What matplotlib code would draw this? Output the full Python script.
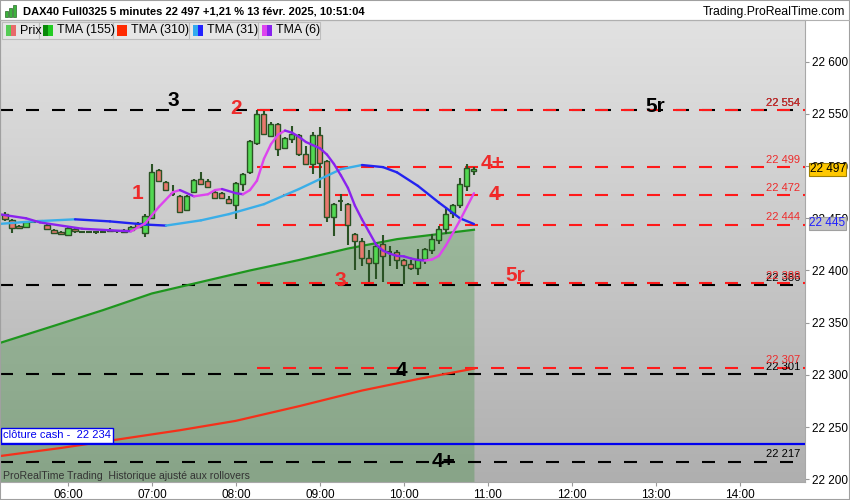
import matplotlib.pyplot as plt
import numpy as np
from matplotlib.patches import Rectangle
from matplotlib.collections import LineCollection
from matplotlib.colors import LinearSegmentedColormap

plt.rcParams['font.family'] = ['Liberation Sans', 'DejaVu Sans']
plt.rcParams['lines.scale_dashes'] = False

# 5-minute bars from 05:15 to 10:50
start_minutes = 5 * 60 + 15
bar_minutes = 5
opens = [22454, 22448, 22443, 22442, 22446, 22447, 22444, 22439, 22437, 22434,
         22440, 22437, 22437, 22437, 22437, 22438, 22438, 22439, 22439, 22445,
         22436, 22450, 22496, 22485, 22473, 22471, 22458, 22475, 22488, 22486,
         22475, 22474, 22468, 22463, 22483, 22494, 22522, 22550, 22529, 22540,
         22517, 22526, 22530, 22512, 22502, 22530, 22505, 22451, 22467, 22464,
         22435, 22428, 22412, 22407, 22425, 22418, 22418, 22410, 22406, 22402,
         22411, 22420, 22429, 22440, 22455, 22463, 22481, 22495]
highs = [22456, 22449, 22444, 22447, 22448, 22448, 22445, 22440, 22438, 22442,
         22441, 22438, 22438, 22438, 22438, 22441, 22439, 22440, 22443, 22446,
         22454, 22502, 22497, 22486, 22482, 22472, 22472, 22488, 22494, 22488,
         22476, 22475, 22471, 22485, 22493, 22525, 22554, 22553, 22542, 22541,
         22528, 22538, 22531, 22519, 22533, 22537, 22506, 22465, 22473, 22465,
         22436, 22431, 22420, 22426, 22434, 22423, 22420, 22411, 22410, 22421,
         22422, 22435, 22443, 22461, 22464, 22489, 22502, 22499]
lows = [22447, 22436, 22440, 22441, 22445, 22446, 22439, 22435, 22434, 22433,
        22436, 22436, 22436, 22435, 22436, 22437, 22436, 22436, 22438, 22441,
        22432, 22449, 22485, 22476, 22471, 22455, 22457, 22474, 22482, 22479,
        22468, 22468, 22464, 22449, 22476, 22492, 22520, 22530, 22528, 22510,
        22516, 22522, 22510, 22501, 22492, 22479, 22446, 22433, 22457, 22424,
        22400, 22404, 22389, 22392, 22389, 22404, 22401, 22387, 22400, 22396,
        22406, 22416, 22425, 22435, 22450, 22460, 22476, 22491]
closes = [22449, 22441, 22441, 22446, 22446, 22447, 22440, 22436, 22435, 22441,
          22438, 22437, 22437, 22437, 22437, 22439, 22438, 22437, 22442, 22442,
          22452, 22494, 22486, 22477, 22473, 22456, 22471, 22487, 22483, 22480,
          22469, 22469, 22465, 22484, 22492, 22524, 22550, 22531, 22540, 22516,
          22527, 22531, 22512, 22502, 22530, 22503, 22451, 22464, 22467, 22444,
          22428, 22412, 22407, 22423, 22414, 22418, 22410, 22405, 22402, 22411,
          22421, 22430, 22440, 22454, 22463, 22483, 22498, 22497]

# moving averages read at sample bars
tma6_bars = [-1, 3, 5, 11, 15, 18, 20, 22, 24, 25, 27, 29, 30, 31, 33, 34, 35, 36, 37, 38,
             39, 40, 41, 42, 43, 44, 45, 46, 47, 48, 49, 50, 51, 52, 53, 54, 55, 56, 57, 58,
             59, 60, 61, 62, 63, 64, 65, 66, 67]
tma6_vals = [22454, 22450, 22446, 22440, 22438.5, 22437.5, 22445, 22461, 22475, 22477,
             22471, 22473, 22477, 22478, 22474, 22473, 22477, 22486, 22507, 22521,
             22530, 22534, 22532, 22528, 22523, 22520, 22517, 22511, 22502, 22491,
             22479, 22462, 22449, 22437, 22425, 22419, 22416, 22414, 22413.5, 22411.5,
             22410, 22409.5, 22410.5, 22414, 22424, 22436, 22448, 22461, 22474]
tma31_bars = [-1, 4, 10, 15, 20, 23, 28, 32, 37, 42, 45, 48, 51, 54, 56, 59, 62, 65, 67]
tma31_vals = [22444.5, 22447, 22449, 22447, 22444, 22443, 22448, 22454, 22463.5, 22478,
              22487.5, 22497, 22501, 22499, 22494, 22481, 22465, 22450, 22444.5]
tma155_bars = [-1, 7, 14, 21, 28, 35, 42, 49, 56, 67]
tma155_vals = [22330, 22347, 22362, 22378, 22389, 22400, 22410, 22421, 22430, 22439]
tma310_bars = [-1, 8, 16, 25, 33, 42, 51, 59, 67]
tma310_vals = [22222, 22230, 22238, 22247, 22256, 22270, 22285, 22296, 22306]

black_levels = [22554, 22386, 22301, 22217]
red_levels = [22554, 22499, 22472, 22444, 22388, 22307]
red_start_bar = 36
cash_close = 22234
last_price = 22497
tma31_last = 22445

# wave labels: (text, bar, price, colour)
wave_labels = [("3", 24, 22563, "black"), ("2", 33, 22555, "red"), ("1", 19, 22474, "red"),
               ("5r", 92.9, 22557, "black"), ("4+", 69.7, 22502, "red"), ("4", 69.9, 22473, "red"),
               ("3", 47.9, 22390, "red"), ("5r", 72.9, 22395, "red"),
               ("4", 56.7, 22304, "black"), ("4+", 62.7, 22217, "black")]

tick_hours = [6, 7, 8, 9, 10, 11, 12, 13, 14]
price_ticks = [22200, 22250, 22300, 22350, 22400, 22450, 22500, 22550, 22600]

RED = '#ee2b2b'
W, H = 850, 500
PX = 1.044  # pixels per index point


def fx(px):
    return px / W


def fy(py):
    return 1 - py / H


def fmt(v):
    return f"{int(v):,}".replace(",", " ")


def two_tone(ax, xs, ys, up, down, lw, z):
    pts = np.column_stack([xs, ys])
    segs = np.stack([pts[:-1], pts[1:]], axis=1)
    cols = [up if ys[i + 1] >= ys[i] else down for i in range(len(ys) - 1)]
    lc = LineCollection(segs, colors=cols, linewidths=lw, zorder=z, capstyle='round', joinstyle='round')
    ax.add_collection(lc)


DASH = (0, (9.36, 9.36))

fig = plt.figure(figsize=(8.5, 5), dpi=100)
ax = fig.add_axes([0, 18 / H, 805 / W, 462 / H])
xmin, xmax = -0.714, 114.3
ymin, ymax = 22197.4, 22639.9
ax.set_xlim(xmin, xmax)
ax.set_ylim(ymin, ymax)

# background gradient
grad = np.linspace(0, 1, 256).reshape(-1, 1)
cmap = LinearSegmentedColormap.from_list('bg', ['#e2e2e2', '#afafaf'])
ax.imshow(grad, extent=[xmin, xmax, ymin, ymax], origin='upper', aspect='auto', cmap=cmap, zorder=0)

# TMA 155 with its fill
ax.fill_between(tma155_bars, tma155_vals, ymin, color='#2e8b2e', alpha=0.3, lw=0, zorder=1)
ax.plot(tma155_bars, tma155_vals, color='#1e961e', lw=1.6, zorder=3)
ax.plot(tma310_bars, tma310_vals, color='#f5301a', lw=1.6, zorder=3)

# levels
for lv in black_levels:
    ax.axhline(lv, color='black', lw=1.5, linestyle=DASH, dash_capstyle='butt', zorder=2)
for lv in red_levels:
    ax.plot([red_start_bar, xmax], [lv, lv], color='#ff1a1a', lw=1.5, linestyle=DASH,
            dash_capstyle='butt', zorder=2.1)
for lv in black_levels:
    ax.text(800 / 805, lv + 2, fmt(lv), transform=ax.get_yaxis_transform(), ha='right', va='bottom',
            fontsize=8, color='black', zorder=6)
for lv in red_levels:
    ax.text(800 / 805, lv + 2, fmt(lv), transform=ax.get_yaxis_transform(), ha='right', va='bottom',
            fontsize=8, color=RED, zorder=6)

# cash close
ax.axhline(cash_close, color='#0000ee', lw=1.6, zorder=3)
ax.text(0.004, cash_close + 8, "clôture cash -  " + fmt(cash_close), transform=ax.get_yaxis_transform(),
        ha='left', va='center', fontsize=8, color='#0000ee', zorder=6,
        bbox=dict(boxstyle='square,pad=0.2', fc='white', ec='#0000ee', lw=1))

# candles
for i in range(len(opens)):
    o, h, l, c = opens[i], highs[i], lows[i], closes[i]
    ax.vlines(i, l, h, color='#2a5224', lw=1.5, zorder=4)
    if c > o:
        ax.bar(i, c - o, 0.72, bottom=o, color='#52d852', edgecolor='#2a5224', lw=1, zorder=4.1)
    elif c < o:
        ax.bar(i, o - c, 0.72, bottom=c, color='#e8786e', edgecolor='#2a5224', lw=1, zorder=4.1)
    else:
        ax.hlines(c, i - 0.36, i + 0.36, color='#2a5224', lw=1.5, zorder=4.1)

two_tone(ax, tma31_bars, tma31_vals, '#3aaee8', '#2323f0', 1.7, 5)
two_tone(ax, tma6_bars, tma6_vals, '#dd44ee', '#8a22ee', 1.7, 5.1)

# wave labels
for t, b, p, col in wave_labels:
    c = RED if col == 'red' else 'black'
    ax.text(b, p, t, ha='center', va='center', fontsize=15, fontweight='bold', color=c, zorder=7)

# axes styling
ax.yaxis.tick_right()
ax.set_yticks(price_ticks)
ax.set_yticklabels([fmt(v) for v in price_ticks])
ax.set_xticks([(hh * 60 - start_minutes) / bar_minutes for hh in tick_hours])
ax.set_xticklabels([f"{hh:02d}:00" for hh in tick_hours])
ax.tick_params(axis='y', length=3, color='#999999', labelsize=8.5, pad=2)
ax.tick_params(axis='x', length=3, color='#999999', labelsize=8.5, pad=2)
for s in ax.spines.values():
    s.set_color('#a8a8a8')
    s.set_linewidth(0.8)

# price tags on the right scale
yt = ax.get_yaxis_transform()
for val, fc, ec, tc in [(last_price, '#ffc800', '#a08000', 'black'),
                        (tma31_last, '#c4c4c4', '#a0a0a0', '#2020ff')]:
    ax.add_patch(Rectangle((1 + 4 / 805, val - 6.5 / PX), 37 / 805, 13 / PX, transform=yt,
                           fc=fc, ec=ec, lw=0.8, clip_on=False, zorder=8))
    ax.text(1 + 22.5 / 805, val, fmt(val), transform=yt, ha='center', va='center',
            fontsize=8.5, color=tc, zorder=9, clip_on=False)

# header
fig.text(fx(23), fy(12), "DAX40 Full0325 5 minutes 22 497 +1,21 % 13 févr. 2025, 10:51:04",
         fontsize=8, fontweight='bold', va='center', ha='left')
fig.text(fx(845), fy(12), "Trading.ProRealTime.com", fontsize=8.8, va='center', ha='right')
for bx, bh in [(5, 6), (9, 9), (13, 12)]:
    fig.patches.append(Rectangle((fx(bx), fy(17)), fx(3), bh / H, transform=fig.transFigure,
                                 fc='#3cb43c', ec='#2a6a2a', lw=0.5))

# legend row
legend_items = [("Prix", 2, 39, '#55cc55', '#e86a6a'),
                ("TMA (155)", 39, 113, '#0a8a0a', '#22cc22'),
                ("TMA (310)", 113, 189, '#ff2a00', '#ff2a00'),
                ("TMA (31)", 189, 258, '#33aaee', '#2222ff'),
                ("TMA (6)", 258, 320, '#dd44ee', '#8822ee')]
for name, x0, x1, c1, c2 in legend_items:
    fig.patches.append(Rectangle((fx(x0), fy(39)), fx(x1 - x0), 17 / H, transform=fig.transFigure,
                                 fc='#e6e6e6', ec='#bdbdbd', lw=0.8))
    fig.patches.append(Rectangle((fx(x0 + 4), fy(36)), fx(5), 11 / H, transform=fig.transFigure,
                                 fc=c1, ec='none'))
    fig.patches.append(Rectangle((fx(x0 + 9), fy(36)), fx(5), 11 / H, transform=fig.transFigure,
                                 fc=c2, ec='none'))
    fig.text(fx(x0 + 18), fy(30.5), name, fontsize=8.9, va='center', ha='left')

fig.text(fx(3), fy(476), "ProRealTime Trading  Historique ajusté aux rollovers", fontsize=7.6,
         color='#333333', va='center', ha='left')
fig.patches.append(Rectangle((0, 0), 1, 1, transform=fig.transFigure, fc='none', ec='#a0a0a0', lw=1.5))
fig.add_artist(plt.Line2D([0, 1], [fy(20), fy(20)], transform=fig.transFigure, color='#b0b0b0', lw=0.8))

fig.savefig('out.png', dpi=100)
